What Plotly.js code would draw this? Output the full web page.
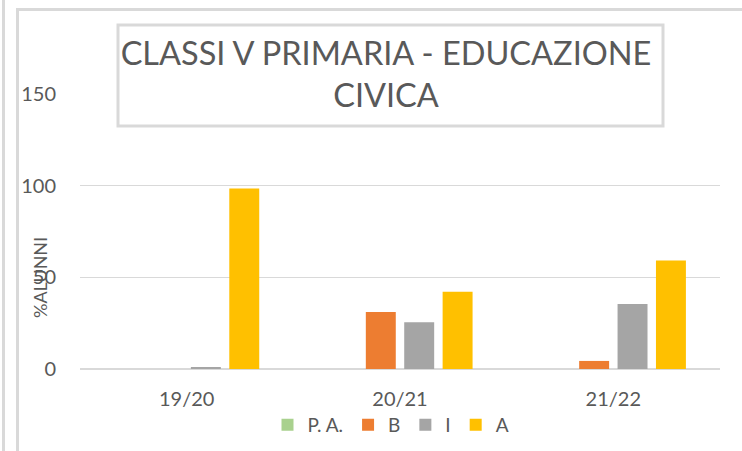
<!DOCTYPE html>
<html>
<head>
<meta charset="utf-8">
<script src="https://cdn.plot.ly/plotly-3.0.1.min.js"></script>
<style>
  html, body { margin: 0; padding: 0; background: #ffffff; }
  #wrap { position: relative; width: 742px; height: 451px; overflow: hidden; }
  #chart { position: absolute; left: 0; top: 0; width: 742px; height: 451px; }
  .frame { position: absolute; background: #d9d9d9; pointer-events: none; }
</style>
</head>
<body>
<div id="wrap">
  <div id="chart"></div>
  <div class="frame" style="left:2px; top:0; width:3px; height:451px;"></div>
  <div class="frame" style="left:16px; top:8px; width:3px; height:443px;"></div>
  <div class="frame" style="left:16px; top:8px; width:726px; height:3px;"></div>
</div>
<script>
const categories = ['19/20', '20/21', '21/22'];
const seriesNames = ['P. A.', 'B', 'I', 'A'];
const valuesPA = [0, 0, 0];
const valuesB = [0, 31.1, 4.4];
const valuesI = [1.1, 25.5, 35.5];
const valuesA = [98.4, 42.2, 59.2];
const yTicks = [0, 50, 100, 150];
const titleText = 'CLASSI V PRIMARIA - EDUCAZIONE<br>CIVICA';
const yTitleText = '%ALUNNI';

const colors = ['#A9D18E', '#ED7D31', '#A5A5A5', '#FFC000'];
const seriesValues = [valuesPA, valuesB, valuesI, valuesA];
const textColor = '#595959';
const fontFam = 'Lato, "Open Sans", sans-serif';

const traces = seriesNames.map((name, k) => ({
  type: 'bar',
  name: name,
  x: categories,
  y: seriesValues[k],
  marker: { color: colors[k], line: { width: 0 } },
  hoverinfo: 'x+y+name'
}));

const plotL = 80, plotR = 720, plotT = 94, plotB = 369;
const W = 742, H = 451;
const pw = plotR - plotL, ph = plotB - plotT;
const px = v => (v - plotL) / pw;
const py = v => (plotB - v) / ph;

const layout = {
  width: W,
  height: H,
  margin: { l: plotL, r: W - plotR, t: plotT, b: H - plotB, pad: 0, autoexpand: false },
  paper_bgcolor: 'rgba(0,0,0,0)',
  plot_bgcolor: 'rgba(0,0,0,0)',
  font: { family: fontFam, color: textColor },
  barmode: 'group',
  bargap: 0.28,
  bargroupgap: 0.22,
  title: {
    text: titleText,
    x: 386 / W, xanchor: 'center', xref: 'container',
    y: 1 - 65 / H, yanchor: 'middle', yref: 'container',
    font: { size: 32.5, color: textColor, family: fontFam }
  },
  xaxis: {
    type: 'category',
    showgrid: false,
    zeroline: false,
    showline: false,
    ticks: '',
    tickfont: { size: 20, color: textColor },
    ticklabelstandoff: 16,
    automargin: false,
    fixedrange: true
  },
  yaxis: {
    range: [0, 150],
    tickvals: yTicks,
    ticktext: yTicks.map(String),
    showgrid: true,
    gridcolor: '#d9d9d9',
    gridwidth: 1.5,
    zeroline: true,
    zerolinecolor: '#d9d9d9',
    zerolinewidth: 2,
    showline: false,
    ticks: '',
    tickfont: { size: 20, color: textColor },
    ticklabelstandoff: 23,
    automargin: false,
    fixedrange: true
  },
  legend: {
    orientation: 'h',
    x: px(391), xanchor: 'center',
    y: py(425), yanchor: 'middle',
    font: { size: 19, color: textColor },
    bgcolor: 'rgba(0,0,0,0)'
  },
  shapes: [{
    type: 'rect', xref: 'paper', yref: 'paper',
    x0: px(118), x1: px(663), y0: py(126), y1: py(25),
    line: { color: '#d9d9d9', width: 3 },
    fillcolor: 'rgba(0,0,0,0)',
    layer: 'above'
  }],
  annotations: [{
    text: yTitleText,
    xref: 'paper', yref: 'paper',
    x: px(40), y: py(278),
    xanchor: 'center', yanchor: 'middle',
    textangle: -90,
    showarrow: false,
    font: { size: 18, color: textColor, family: fontFam }
  }]
};

Plotly.newPlot('chart', traces, layout, { displayModeBar: false, staticPlot: true });
</script>
</body>
</html>
